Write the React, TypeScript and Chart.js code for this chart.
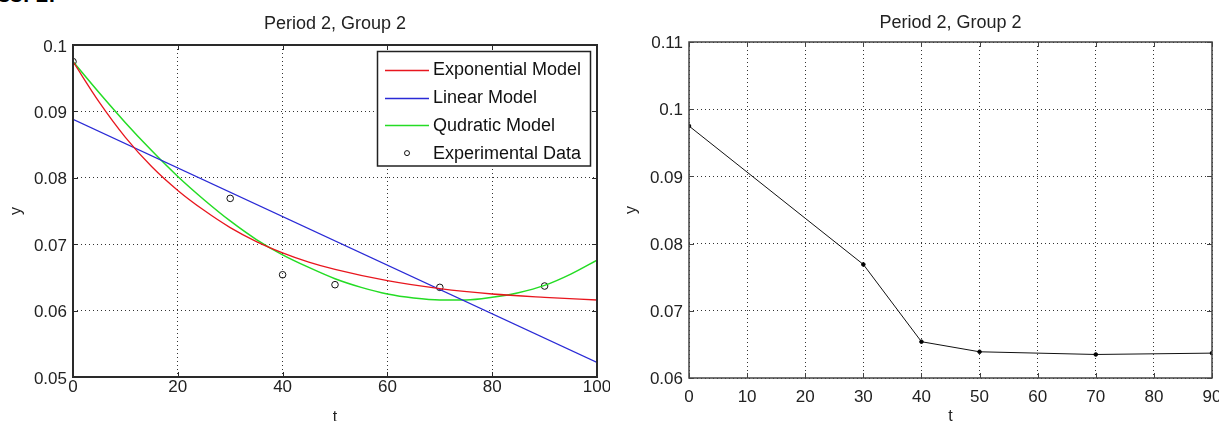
import React, { useEffect, useRef } from "react";
import { Chart, registerables } from "chart.js";

Chart.register(...registerables);

const FONT = "'Liberation Sans', Arial, Helvetica, sans-serif";
const H = 421;
const TITLE = "Period 2, Group 2";

// Experimental data (t, y)
const tData = [0, 30, 40, 50, 70, 90];
const yData = [0.0975, 0.0769, 0.0654, 0.0639, 0.0635, 0.0637];

// Fitted model curves
const tExp = [0, 5, 10, 15, 20, 25, 30, 35, 40, 45, 50, 60, 70, 80, 90, 100];
const yExponential = [0.0975, 0.0914, 0.0861, 0.0817, 0.0781, 0.0751, 0.0725, 0.0704, 0.0687, 0.0673, 0.0662, 0.0645, 0.0633, 0.0625, 0.062, 0.0616];
const tQuad = [0, 5, 10, 15, 20, 25, 30, 35, 40, 45, 50, 55, 60, 65, 70, 75, 80, 85, 90, 95, 100];
const yQuadratic = [0.0975, 0.0928, 0.0883, 0.0841, 0.0802, 0.0767, 0.0735, 0.0707, 0.0684, 0.0665, 0.0648, 0.0635, 0.0625, 0.0619, 0.0616, 0.0616, 0.062, 0.0627, 0.0638, 0.0655, 0.0676];
const tLinear = [0, 100];
const yLinear = [0.0888, 0.0522];

const seriesLabels = ["Exponential Model", "Linear Model", "Qudratic Model", "Experimental Data"];
const seriesColors = ["#e8161e", "#2a2ad6", "#24dc24", "#111111"];

const leftXTicks = [0, 20, 40, 60, 80, 100];
const leftYTicks = [0.05, 0.06, 0.07, 0.08, 0.09, 0.1];
const rightXTicks = [0, 10, 20, 30, 40, 50, 60, 70, 80, 90];
const rightYTicks = [0.06, 0.07, 0.08, 0.09, 0.1, 0.11];

const toXY = (xs: number[], ys: number[]) => xs.map((x, i) => ({ x, y: ys[i] }));
const fmt = (v: any) => String(Number(Number(v).toFixed(2)));

const framePlugin = {
  id: "frame",
  afterDatasetsDraw(chart: any, _args: any, o: any) {
    const { ctx, chartArea: a, scales } = chart;
    ctx.save();
    ctx.strokeStyle = o.color;
    ctx.lineWidth = o.width;
    ctx.strokeRect(a.left, a.top, a.right - a.left, a.bottom - a.top);
    ctx.lineWidth = 1;
    const L = o.tickLen;
    ctx.beginPath();
    scales.x.ticks.forEach((t: any) => {
      const px = Math.round(scales.x.getPixelForValue(t.value)) + 0.5;
      ctx.moveTo(px, a.bottom);
      ctx.lineTo(px, a.bottom - L);
      ctx.moveTo(px, a.top);
      ctx.lineTo(px, a.top + L);
    });
    scales.y.ticks.forEach((t: any) => {
      const py = Math.round(scales.y.getPixelForValue(t.value)) + 0.5;
      ctx.moveTo(a.left, py);
      ctx.lineTo(a.left + L, py);
      ctx.moveTo(a.right, py);
      ctx.lineTo(a.right - L, py);
    });
    ctx.stroke();
    ctx.restore();
  },
};

const titlePlugin = {
  id: "plotTitle",
  afterDraw(chart: any, _args: any, o: any) {
    const { ctx, chartArea: a } = chart;
    ctx.save();
    ctx.fillStyle = "#222";
    ctx.font = `${o.size}px ${FONT}`;
    ctx.textAlign = "center";
    ctx.textBaseline = "alphabetic";
    ctx.fillText(o.text, (a.left + a.right) / 2, o.baseline);
    ctx.restore();
  },
};

const insideLegend = {
  id: "insideLegend",
  afterDraw(chart: any, _args: any, o: any) {
    if (!o || !o.display) return;
    const ctx = chart.ctx;
    ctx.save();
    ctx.fillStyle = "#fff";
    ctx.fillRect(o.x, o.y, o.w, o.h);
    ctx.strokeStyle = "#222";
    ctx.lineWidth = 1.5;
    ctx.strokeRect(o.x, o.y, o.w, o.h);
    ctx.font = `${o.size}px ${FONT}`;
    ctx.textAlign = "left";
    ctx.textBaseline = "middle";
    chart.data.datasets.forEach((ds: any, i: number) => {
      const cy = o.y + o.firstRow + i * o.rowGap;
      const color = o.colors[i];
      if (ds.showLine === false) {
        ctx.beginPath();
        ctx.strokeStyle = color;
        ctx.lineWidth = 1;
        ctx.arc((o.lineX0 + o.lineX1) / 2, cy, 2.5, 0, Math.PI * 2);
        ctx.stroke();
      } else {
        ctx.beginPath();
        ctx.strokeStyle = color;
        ctx.lineWidth = 1.5;
        ctx.moveTo(o.lineX0, Math.round(cy) + 0.5);
        ctx.lineTo(o.lineX1, Math.round(cy) + 0.5);
        ctx.stroke();
      }
      ctx.fillStyle = "#111";
      ctx.fillText(ds.label, o.textX, cy + 0.5);
    });
    ctx.restore();
  },
};

type ScaleParams = {
  xTicks: number[];
  yTicks: number[];
  yWidth: number;
  xHeight: number;
  yLabelPad: number;
  xLabelPad: number;
  yTitlePad: number;
  xTitlePad: number;
  yLabelOffset: number;
  gridColor: string;
};

function buildScales(p: ScaleParams) {
  const grid = { color: p.gridColor, lineWidth: 1, drawTicks: false };
  const border = { display: false, dash: [1, 3] };
  return {
    x: {
      type: "linear",
      min: p.xTicks[0],
      max: p.xTicks[p.xTicks.length - 1],
      afterBuildTicks: (s: any) => {
        s.ticks = p.xTicks.map((v) => ({ value: v }));
      },
      afterFit: (s: any) => {
        s.height = p.xHeight;
        s.paddingLeft = 0;
        s.paddingRight = 0;
      },
      ticks: {
        padding: p.xLabelPad,
        maxRotation: 0,
        autoSkip: false,
        color: "#222",
        font: { size: 17, lineHeight: 1.2 },
        callback: (v: any) => fmt(v),
      },
      title: {
        display: true,
        text: "t",
        color: "#222",
        font: { size: 16, lineHeight: 1 },
        padding: { top: 0, bottom: p.xTitlePad },
      },
      grid,
      border,
    },
    y: {
      type: "linear",
      min: p.yTicks[0],
      max: p.yTicks[p.yTicks.length - 1],
      afterBuildTicks: (s: any) => {
        s.ticks = p.yTicks.map((v) => ({ value: v }));
      },
      afterFit: (s: any) => {
        s.width = p.yWidth;
      },
      ticks: {
        padding: p.yLabelPad,
        autoSkip: false,
        labelOffset: p.yLabelOffset,
        color: "#222",
        font: { size: 17, lineHeight: 1.2 },
        callback: (v: any) => fmt(v),
      },
      title: {
        display: true,
        text: "y",
        color: "#222",
        font: { size: 16, lineHeight: 1 },
        padding: { top: p.yTitlePad, bottom: 0 },
      },
      grid,
      border,
    },
  };
}

const commonOptions = {
  responsive: false,
  maintainAspectRatio: false,
  animation: false,
  devicePixelRatio: 1,
  events: [],
};

function leftConfig(): any {
  return {
    type: "line",
    data: {
      datasets: [
        {
          label: seriesLabels[0],
          data: toXY(tExp, yExponential),
          borderColor: seriesColors[0],
          borderWidth: 1.3,
          pointRadius: 0,
          cubicInterpolationMode: "monotone",
          fill: false,
        },
        {
          label: seriesLabels[1],
          data: toXY(tLinear, yLinear),
          borderColor: seriesColors[1],
          borderWidth: 1.2,
          pointRadius: 0,
          fill: false,
        },
        {
          label: seriesLabels[2],
          data: toXY(tQuad, yQuadratic),
          borderColor: seriesColors[2],
          borderWidth: 1.5,
          pointRadius: 0,
          cubicInterpolationMode: "monotone",
          fill: false,
        },
        {
          label: seriesLabels[3],
          data: toXY(tData, yData),
          showLine: false,
          borderColor: seriesColors[3],
          backgroundColor: "rgba(0,0,0,0)",
          pointRadius: 3.3,
          pointBorderWidth: 1,
          pointStyle: "circle",
        },
      ],
    },
    options: {
      ...commonOptions,
      layout: { padding: { top: 45, right: 13, bottom: 0, left: 0 } },
      scales: buildScales({
        xTicks: leftXTicks,
        yTicks: leftYTicks,
        yWidth: 73,
        xHeight: 44,
        yLabelPad: 6,
        xLabelPad: 0,
        yTitlePad: 9,
        xTitlePad: -5,
        yLabelOffset: 2,
        gridColor: "#333",
      }),
      plugins: {
        legend: { display: false },
        tooltip: { enabled: false },
        frame: { color: "#2a2a2a", width: 2, tickLen: 5 },
        plotTitle: { text: TITLE, size: 18, baseline: 29 },
        insideLegend: {
          display: true,
          x: 377.5,
          y: 51.5,
          w: 213,
          h: 114.5,
          firstRow: 18.5,
          rowGap: 27.7,
          lineX0: 385,
          lineX1: 429,
          textX: 433,
          size: 18,
          colors: seriesColors,
        },
      },
    },
    plugins: [framePlugin, titlePlugin, insideLegend],
  };
}

function rightConfig(): any {
  return {
    type: "line",
    data: {
      datasets: [
        {
          label: "Experimental Data",
          data: toXY(tData, yData),
          borderColor: "#111",
          borderWidth: 1,
          pointRadius: 1.8,
          pointBackgroundColor: "#000",
          pointBorderColor: "#000",
          tension: 0,
          fill: false,
        },
      ],
    },
    options: {
      ...commonOptions,
      layout: { padding: { top: 42, right: 7, bottom: 0, left: 0 } },
      scales: buildScales({
        xTicks: rightXTicks,
        yTicks: rightYTicks,
        yWidth: 79,
        xHeight: 43,
        yLabelPad: 6,
        xLabelPad: 9,
        yTitlePad: 14,
        xTitlePad: -4,
        yLabelOffset: 1.5,
        gridColor: "#333",
      }),
      plugins: {
        legend: { display: false },
        tooltip: { enabled: false },
        frame: { color: "#444", width: 1.5, tickLen: 5 },
        plotTitle: { text: TITLE, size: 18, baseline: 28 },
      },
    },
    plugins: [framePlugin, titlePlugin],
  };
}

function Panel({ left, width, makeConfig }: { left: number; width: number; makeConfig: () => any }) {
  const ref = useRef<HTMLCanvasElement | null>(null);
  useEffect(() => {
    const chart = new Chart(ref.current as HTMLCanvasElement, makeConfig());
    return () => chart.destroy();
  }, [makeConfig]);
  return (
    <canvas
      ref={ref}
      width={width}
      height={H}
      style={{ position: "absolute", left, top: 0, width, height: H, display: "block" }}
    />
  );
}

export default function App() {
  return (
    <div
      style={{
        position: "fixed",
        left: 0,
        top: 0,
        width: 1219,
        height: H,
        background: "#fff",
        overflow: "hidden",
      }}
    >
      <div
        style={{
          position: "absolute",
          left: -2,
          top: -18,
          font: `bold 22px ${FONT}`,
          whiteSpace: "nowrap",
          color: "#000",
        }}
      >
        ss: 2:
      </div>
      <Panel left={0} width={610} makeConfig={leftConfig} />
      <Panel left={610} width={609} makeConfig={rightConfig} />
    </div>
  );
}
